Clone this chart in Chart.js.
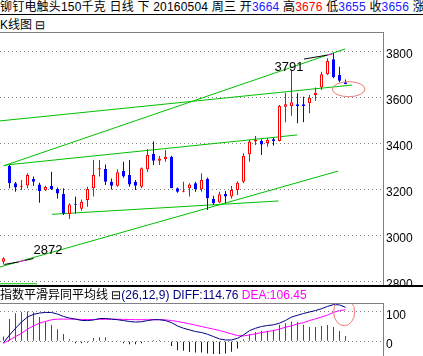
<!DOCTYPE html>
<html><head><meta charset="utf-8">
<script src="https://cdn.jsdelivr.net/npm/chart.js@4/dist/chart.umd.min.js"></script>
<style>
html,body{margin:0;padding:0;background:#fff;}
body{width:423px;height:356px;overflow:hidden;position:relative;font-family:"Liberation Sans","Noto Sans CJK SC",sans-serif;color:#000;}
.t{position:absolute;white-space:nowrap;font-size:12px;line-height:14px;}
.b{color:#2020ff}.r{color:#ff0000}.n{color:#000080}.m{color:#ff00ff}
#hline{position:absolute;left:0;top:14px;width:423px;height:1px;background:#000;}
#bline{position:absolute;left:0;top:285px;width:423px;height:2px;background:#000;}
#mainBox{position:absolute;left:0;top:32px;width:423px;height:254px;}
#macdBox{position:absolute;left:0;top:303px;width:423px;height:53px;}
</style></head><body>
<div class="t" id="hdr" style="left:0;top:0;letter-spacing:0.2px;">铆钉电触头150千克 日线 下 20160504 周三 开<span class="b">3664</span> 高<span class="r">3676</span> 低<span class="b">3655</span> 收<span class="b">3656</span> 涨</div>
<div id="hline"></div>
<div class="t" style="left:0;top:18px;">K线图 ⊟</div>
<div id="mainBox"><canvas id="main" width="423" height="254"></canvas></div>
<div id="bline"></div>
<div class="t" style="left:0;top:288px;">指数平滑异同平均线 ⊟<span class="n">(26,12,9) DIFF:114.76</span> <span class="m">DEA:106.45</span></div>
<div id="macdBox"><canvas id="macd" width="423" height="53"></canvas></div>
<script>
// ---- data ----
const open  = [2884,3300,3225,3210,3215,3243,3220,3195,3213,3200,3178,3091,3136,3114,3152,3203,3285,3287,3232,3214,3278,3261,3232,3210,3286,3352,3323,3330,3340,3203,3188,3203,3225,3199,3243,3157,3141,3178,3167,3196,3232,3351,3406,3409,3400,3416,3409,3558,3561,3568,3568,3573,3609,3641,3699,3764,3696,3664];
const high  = [2903,3304,3230,3239,3268,3254,3227,3214,3275,3206,3203,3138,3167,3154,3210,3326,3326,3307,3246,3286,3319,3326,3239,3294,3374,3406,3343,3370,3345,3207,3232,3225,3232,3268,3250,3171,3188,3191,3213,3234,3355,3413,3430,3416,3422,3423,3565,3619,3717,3616,3601,3609,3641,3710,3768,3791,3732,3676];
const low   = [2872,3203,3188,3196,3203,3214,3140,3191,3196,3159,3087,3070,3094,3105,3123,3167,3254,3217,3198,3210,3249,3210,3196,3203,3275,3304,3304,3319,3203,3184,3186,3167,3188,3188,3109,3130,3138,3138,3159,3174,3225,3319,3391,3348,3384,3388,3406,3490,3519,3486,3490,3529,3583,3630,3696,3681,3664,3655];
const close = [2899,3225,3206,3214,3261,3232,3191,3209,3200,3180,3094,3133,3131,3144,3200,3261,3290,3232,3214,3273,3254,3220,3214,3290,3348,3323,3333,3340,3203,3188,3192,3220,3199,3239,3160,3138,3177,3167,3196,3227,3343,3406,3413,3394,3413,3409,3561,3568,3577,3561,3561,3597,3619,3699,3757,3686,3671,3656];
const priceTicks = [2800,3000,3200,3400,3600,3800];
const diff = [-5,21,44,65,82,91,95.5,97.5,97.5,92,84,78.5,75,70.5,70,72,77,77,75,73,70,67,65,66,70,73,73,70,63,52,44,38.6,33,29.6,23.8,16,8,4.5,4.5,10,21.5,36,44,50,53.4,55.7,61.4,70.3,82,88,94,99,104,110,118,124,123,114.76];
const dea  = [-7,4.5,16,27,41,52,61.4,67,72.7,75,75,75,74.5,74,73.5,73.5,74,74.5,74.5,74.5,74,73.5,73,73,73,73,73,72.5,70,67,63,59,54.5,50,45.5,41,36.4,30.7,25,19.3,18,21.5,25,29.6,33,36.4,41,47.8,52,59,63,70,76,81.8,88.6,97.7,104,106.45];
const hist = [16,75,95,98,101,98,82,67,56,41,25,7,-7,-7,-5,11,14,14,-1,1,-7,-10,-10,-7,-1,4,4,2,-16,-30,-32,-36,-38,-38,-41,-43,-43,-41,-35,-24,7,24,31,36,36,39,56,61,67,65,56,48,48,52,55,48,35,18];
const macdTicks = [0,100];
// drawn trend lines: [startIndex, startPrice, endIndex, endPrice]
const trendA = [-0.58,3496,58.1,3652];
const trendB = [-0.05,3300,56.95,3809];
const trendC = [0.28,3304,48.95,3435];
const trendD = [8.07,3090,45.83,3148];
const trendE = [-0.58,2861,55.78,3278];
const trendF = [-0.58,2788,5.6,2788];
const maxMark = {i:55, v:3791};
const minMark = {i:0, v:2872};
const circleMain = {i:57.53, v:3634};
const circleMacd = {i:56.78, v:99};

const days = open.map((_, i) => i);
const up = days.map(i => close[i] >= open[i]);
const RED = '#ff0000', BLUE = '#0000ff', GREEN = '#00c000';
const X_MIN = -3.5/6, X_MAX = X_MIN + 383/6;
const Y_MAX = 3800 + 19/0.23, Y_MIN = Y_MAX - 254/0.23;
const M_MAX = 100 + 8.7/0.296, M_MIN = -(53-38.3)/0.296;
const FONT = {family:'Liberation Sans', size:12};

function xScale(){ return {type:'linear', min:X_MIN, max:X_MAX, display:false, offset:false, grid:{offset:false}}; }
function yScale(min, max, ticks){
  return {position:'right', min, max,
    afterFit: s => { s.width = 40; s.paddingTop = 0; s.paddingBottom = 0; },
    afterBuildTicks: s => { s.ticks = ticks.map(v => ({value:v})); },
    grid:{color:'#808080', lineWidth:1, drawTicks:false},
    border:{display:false, dash:[1,3]},
    ticks:{padding:3, color:'#000', font:FONT, labelOffset:3.5, callback: v => String(v)}};
}
function framePlugin(){
  return {id:'frame', afterDraw(c){
    const ctx = c.ctx, a = c.chartArea;
    ctx.save(); ctx.strokeStyle = '#808080'; ctx.lineWidth = 1;
    ctx.beginPath(); ctx.moveTo(0, a.top + 0.5); ctx.lineTo(a.right + 0.5, a.top + 0.5);
    ctx.moveTo(a.right + 0.5, a.top); ctx.lineTo(a.right + 0.5, a.bottom); ctx.stroke();
    ctx.restore();
  }};
}
function ellipse(ctx, x, y, rx, ry){
  ctx.save(); ctx.strokeStyle = '#f07878'; ctx.lineWidth = 1;
  ctx.beginPath(); ctx.ellipse(x, y, rx, ry, 0, 0, Math.PI*2); ctx.stroke(); ctx.restore();
}
const annot = {id:'annot', afterDatasetsDraw(c){
  const ctx = c.ctx, xs = c.scales.x, ys = c.scales.y;
  let px = xs.getPixelForValue(maxMark.i), py = ys.getPixelForValue(maxMark.v);
  ctx.save(); ctx.lineWidth = 1;
  ctx.strokeStyle = '#000'; ctx.beginPath(); ctx.moveTo(px-29.5, py+6); ctx.lineTo(px-6, py+2); ctx.stroke();
  ctx.strokeStyle = '#ff00ff'; ctx.beginPath(); ctx.moveTo(px-6, py+2); ctx.lineTo(px-1, py+1); ctx.stroke();
  ctx.fillStyle = '#000'; ctx.font = '13px "Liberation Sans"'; ctx.textAlign = 'right'; ctx.textBaseline = 'middle';
  ctx.fillText(String(maxMark.v), px-30, py+14);
  px = xs.getPixelForValue(minMark.i); py = ys.getPixelForValue(minMark.v);
  ctx.strokeStyle = '#000'; ctx.beginPath(); ctx.moveTo(px+1, py); ctx.lineTo(px+15, py-2.5); ctx.stroke();
  ctx.strokeStyle = '#ff00ff'; ctx.beginPath(); ctx.moveTo(px+15, py-2.5); ctx.lineTo(px+21.5, py-4); ctx.stroke();
  ctx.strokeStyle = '#000'; ctx.beginPath(); ctx.moveTo(px+21.5, py-4); ctx.lineTo(px+30, py-6); ctx.stroke();
  ctx.textAlign = 'left'; ctx.fillText(String(minMark.v), px+30, py-14);
  ctx.restore();
  ellipse(ctx, xs.getPixelForValue(circleMain.i), ys.getPixelForValue(circleMain.v), 16.3, 7.5);
}};
const annotMacd = {id:'annotMacd', afterDatasetsDraw(c){
  ellipse(c.ctx, c.scales.x.getPixelForValue(circleMacd.i), c.scales.y.getPixelForValue(circleMacd.v), 10.5, 13.7);
}};
function trend(t){
  return {type:'line', order:2, data:[{x:t[0], y:t[1]}, {x:t[2], y:t[3]}], borderColor:GREEN, borderWidth:1, pointRadius:0, fill:false, tension:0};
}
const common = {responsive:false, animation:false, devicePixelRatio:1, layout:{padding:0},
  plugins:{legend:{display:false}, tooltip:{enabled:false}}, events:[]};

new Chart(document.getElementById('main'), {
  type:'bar',
  data:{datasets:[
    {type:'bar', order:0, data: days.map(i => ({x:i, y:[open[i], close[i]]})),
     backgroundColor: days.map(i => up[i] ? '#ffffff' : BLUE), borderColor: days.map(i => up[i] ? RED : BLUE),
     borderWidth:1, borderSkipped:false, barThickness:3, grouped:false, inflateAmount:0},
    {type:'bar', order:1, data: days.map(i => ({x:i, y:[low[i], high[i]]})),
     backgroundColor: days.map(i => up[i] ? RED : BLUE), borderWidth:0, barThickness:1, grouped:false, inflateAmount:0},
    trend(trendA), trend(trendB), trend(trendC), trend(trendD), trend(trendE), trend(trendF)
  ]},
  options:Object.assign({}, common, {scales:{x:xScale(), y:yScale(Y_MIN, Y_MAX, priceTicks)}}),
  plugins:[framePlugin(), annot]
});

new Chart(document.getElementById('macd'), {
  type:'bar',
  data:{datasets:[
    {type:'line', order:0, data: days.map(i => ({x:i, y:diff[i]})), borderColor:'#000080', borderWidth:1, pointRadius:0, tension:0},
    {type:'line', order:1, data: days.map(i => ({x:i, y:dea[i]})), borderColor:'#ff00ff', borderWidth:1, pointRadius:0, tension:0},
    {type:'bar', order:2, data: days.map(i => ({x:i, y:[0, hist[i]]})), backgroundColor: days.map(i => hist[i] >= 0 ? RED : BLUE),
     borderWidth:0, barThickness:1, grouped:false, inflateAmount:0}
  ]},
  options:Object.assign({}, common, {scales:{x:xScale(), y:yScale(M_MIN, M_MAX, macdTicks)}}),
  plugins:[framePlugin(), annotMacd]
});
</script>
</body></html>
